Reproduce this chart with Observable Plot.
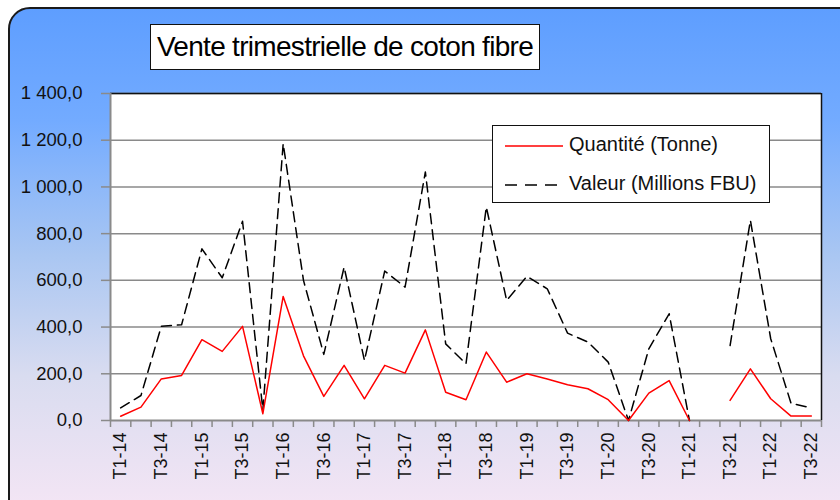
<!DOCTYPE html>
<html>
<head>
<meta charset="utf-8">
<script src="https://cdn.jsdelivr.net/npm/d3@7"></script>
<script src="https://cdn.jsdelivr.net/npm/@observablehq/plot@0.6"></script>
<style>
  html, body { margin: 0; padding: 0; background: #fff; }
  #wrap { position: relative; width: 840px; height: 500px; overflow: hidden; font-family: "Liberation Sans", Arial, sans-serif; }
  #bg { position: absolute; left: 8px; top: 7px; width: 850px; height: 510px; border: 2px solid #1a1a1a; border-radius: 22px;
        background: linear-gradient(180deg, #5e9eff 0%, #73abff 22%, #a9c6f2 48%, #d9dcf0 72%, #f6e6f5 100%); }
  #title { position: absolute; left: 150px; top: 24px; width: 388px; height: 44px; background: #fff; border: 1.5px solid #111;
           font-size: 28px; line-height: 44px; text-align: center; color: #000; letter-spacing: -0.7px; white-space: nowrap; }
  #legend { position: absolute; left: 492px; top: 125px; width: 276px; height: 76px; background: #fff; border: 1.5px solid #111; }
  .li { position: absolute; left: 0; height: 24px; font-size: 20px; color: #111; }
  .li svg { position: absolute; left: 12px; top: 7px; }
  .li span { position: absolute; left: 76px; top: 0px; white-space: nowrap; }
  #chart { position: absolute; left: 0; top: 0; }
</style>
</head>
<body>
<div id="wrap">
  <div id="bg"></div>
  <div id="chart"></div>
  <div id="title">Vente trimestrielle de coton fibre</div>
  <div id="legend">
    <div class="li" style="top:7px"><svg width="60" height="12"><line x1="0" y1="6" x2="58" y2="6" stroke="#ff0000" stroke-width="1.5"/></svg><span>Quantité (Tonne)</span></div>
    <div class="li" style="top:46px"><svg width="60" height="12"><line x1="0" y1="6" x2="58" y2="6" stroke="#000" stroke-width="1.5" stroke-dasharray="12,8"/></svg><span>Valeur (Millions FBU)</span></div>
  </div>
</div>
<script>
const quarters = ["T1-14","T2-14","T3-14","T4-14","T1-15","T2-15","T3-15","T4-15",
  "T1-16","T2-16","T3-16","T4-16","T1-17","T2-17","T3-17","T4-17",
  "T1-18","T2-18","T3-18","T4-18","T1-19","T2-19","T3-19","T4-19",
  "T1-20","T2-20","T3-20","T4-20","T1-21","T2-21","T3-21","T4-21",
  "T1-22","T2-22","T3-22"];
const quantite = [18, 57, 178, 193, 346, 296, 403, 29,
  531, 277, 103, 236, 93, 236, 203, 388,
  121, 89, 293, 164, 200, 178, 153, 136,
  89, 0, 117, 171, 0, null, 86, 221,
  93, 19, 19];
const valeur = [54, 107, 403, 410, 735, 611, 853, 45,
  1185, 600, 283, 657, 257, 640, 571, 1064,
  328, 243, 914, 514, 617, 564, 374, 336,
  250, 0, 307, 457, 0, null, 321, 857,
  350, 74, 54];
const yTicks = [0, 200, 400, 600, 800, 1000, 1200, 1400];

const rows = quarters.map((q, i) => ({i, q, quantite: quantite[i], valeur: valeur[i]}));
const fmt = d3.formatLocale({decimal: ",", thousands: " ", grouping: [3]}).format(",.1f");
const edges = d3.range(quarters.length + 1).map(k => k - 0.5);
const labelIdx = d3.range(0, quarters.length, 2);

const chart = Plot.plot({
  width: 840, height: 500,
  marginLeft: 110, marginRight: 19, marginTop: 93, marginBottom: 80,
  style: {background: "transparent", fontFamily: "Liberation Sans, Arial, sans-serif", color: "#111"},
  x: {type: "linear", domain: [-0.5, quarters.length - 0.5]},
  y: {domain: [0, 1400]},
  marks: [
    Plot.frame({fill: "white", stroke: "none"}),
    Plot.gridY(yTicks.filter(d => d > 0), {stroke: "#8a8a8a", strokeOpacity: 1, strokeWidth: 1.5}),
    Plot.ruleY([1400], {stroke: "#111", strokeWidth: 1.5}),
    Plot.ruleX([quarters.length - 0.5], {stroke: "#111", strokeWidth: 1.5}),
    Plot.ruleX([-0.5], {stroke: "#8a8a8a", strokeWidth: 2}),
    Plot.ruleY([0], {stroke: "#8a8a8a", strokeWidth: 2}),
    Plot.axisY(yTicks, {tickFormat: fmt, tickSize: 9, tickPadding: 19, fontSize: 18.5, stroke: "#8a8a8a", strokeWidth: 1.5, label: null, fill: "#111"}),
    Plot.axisX(edges, {tickSize: 7, tickFormat: () => "", stroke: "#8a8a8a", strokeWidth: 1.5, label: null}),
    Plot.axisX(labelIdx, {tickSize: 0, tickPadding: 12, tickRotate: -90, tickFormat: i => quarters[i], fontSize: 18, label: null, fill: "#111"}),
    Plot.line(rows, {x: "i", y: "valeur", stroke: "#000", strokeWidth: 1.5, strokeDasharray: "10,6"}),
    Plot.line(rows, {x: "i", y: "quantite", stroke: "#ff0000", strokeWidth: 1.5})
  ]
});
document.getElementById("chart").appendChild(chart);
</script>
</body>
</html>
